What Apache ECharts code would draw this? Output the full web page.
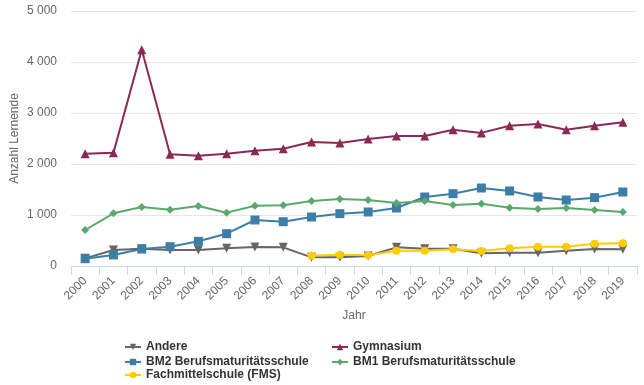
<!DOCTYPE html>
<html><head><meta charset="utf-8">
<script src="https://cdn.jsdelivr.net/npm/echarts@6/dist/echarts.min.js"></script>
<style>html,body{margin:0;padding:0;background:#fff}#c{width:644px;height:385px}</style>
</head><body><div id="c"></div>
<script>
const years = ['2000','2001','2002','2003','2004','2005','2006','2007','2008','2009','2010','2011','2012','2013','2014','2015','2016','2017','2018','2019'];
const andere = [150,314,340,314,314,346,373,366,170,170,196,366,340,340,248,261,261,300,333,327];
const gymnasium = [2200,2220,4240,2190,2160,2200,2260,2300,2430,2410,2490,2550,2550,2670,2610,2750,2785,2670,2750,2820];
const bm2 = [143,216,333,379,484,634,902,869,961,1026,1059,1137,1353,1418,1529,1471,1353,1294,1340,1451];
const bm1 = [706,1033,1157,1104,1176,1046,1183,1190,1275,1314,1294,1235,1275,1196,1222,1144,1118,1137,1098,1059];
const fms = [null,null,null,null,null,null,null,null,202,222,209,300,300,327,294,346,379,379,438,444];
const yTicks = [0,1000,2000,3000,4000,5000];

const chart = echarts.init(document.getElementById('c'));
const font = 'Arial, "Liberation Sans", sans-serif';
function mk(name, data, color, symbol, size, rotate){
  return {name, type:'line', data, symbol, symbolSize:size, symbolRotate:rotate||0,
    lineStyle:{width:2,color}, itemStyle:{color}, showSymbol:true, connectNulls:false, animation:false};
}
function lg(name, left, top){
  return {left, top, padding:0, itemWidth:16, itemHeight:8, itemGap:0,
    textStyle:{color:'#333',fontSize:12,fontWeight:'bold'}, data:[name]};
}
chart.setOption({
  animation:false,
  textStyle:{fontFamily:font},
  grid:{left:71,right:7,top:11,bottom:119,containLabel:false,outerBoundsMode:'none'},
  xAxis:{type:'category',data:years,boundaryGap:true,
    name:'Jahr',nameLocation:'middle',nameGap:44,nameTextStyle:{color:'#666',fontSize:12},
    axisLine:{lineStyle:{color:'#ccd6eb'}},
    axisTick:{show:true,length:9,lineStyle:{color:'#ccd6eb'},alignWithLabel:false},
    axisLabel:{rotate:45,color:'#666',fontSize:12,margin:13,interval:0}},
  yAxis:{type:'value',min:yTicks[0],max:yTicks[yTicks.length-1],interval:1000,
    name:'Anzahl Lernende',nameLocation:'middle',nameGap:50,nameRotate:90,nameMoveOverlap:false,nameTextStyle:{color:'#666',fontSize:12},
    axisLine:{show:false},axisTick:{show:false},
    splitLine:{lineStyle:{color:'#e6e6e6'}},
    axisLabel:{color:'#666',fontSize:12,margin:14,formatter:v=>String(v).replace(/\B(?=(\d{3})+(?!\d))/g,' ')}},
  legend:[
    lg('Andere',124,341),
    lg('BM2 Berufsmaturitätsschule',124,356),
    lg('Fachmittelschule (FMS)',124,369),
    lg('Gymnasium',331,341),
    lg('BM1 Berufsmaturitätsschule',331,356)
  ],
  series:[
    mk('Andere',andere,'#666666','triangle',9,180),
    mk('Gymnasium',gymnasium,'#8b2856','triangle',9),
    mk('BM2 Berufsmaturitätsschule',bm2,'#3d7ea6','rect',9),
    mk('BM1 Berufsmaturitätsschule',bm1,'#5aa86c','diamond',8),
    mk('Fachmittelschule (FMS)',fms,'#ffcc00','circle',8)
  ]
});
</script></body></html>
